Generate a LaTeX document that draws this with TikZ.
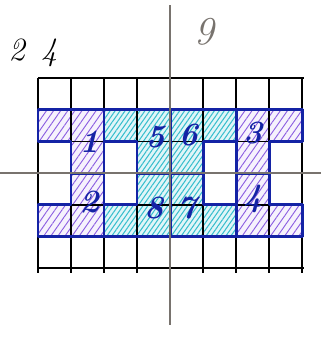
\documentclass[tikz,border=0pt]{standalone}
\usetikzlibrary{patterns.meta}
\definecolor{penblue}{RGB}{20, 35, 165}
\definecolor{hatchviolet}{RGB}{140, 95, 225}
\definecolor{hatchcyan}{RGB}{55, 190, 205}
\definecolor{pencilgray}{RGB}{120, 115, 110}

\newcommand{\partone}{(0,-1) -- (2,-1) -- (2,-3) -- (1,-3) -- (1,-2) -- (0,-2) -- cycle}
\newcommand{\parttwo}{(1,-3) -- (2,-3) -- (2,-5) -- (0,-5) -- (0,-4) -- (1,-4) -- cycle}
\newcommand{\partthree}{(6,-1) -- (8,-1) -- (8,-2) -- (7,-2) -- (7,-3) -- (6,-3) -- cycle}
\newcommand{\partfour}{(6,-3) -- (7,-3) -- (7,-4) -- (8,-4) -- (8,-5) -- (6,-5) -- cycle}
\newcommand{\partfive}{(2,-1) -- (4,-1) -- (4,-3) -- (3,-3) -- (3,-2) -- (2,-2) -- cycle}
\newcommand{\partsix}{(4,-1) -- (6,-1) -- (6,-2) -- (5,-2) -- (5,-3) -- (4,-3) -- cycle}
\newcommand{\partseven}{(4,-3) -- (5,-3) -- (5,-4) -- (6,-4) -- (6,-5) -- (4,-5) -- cycle}
\newcommand{\parteight}{(3,-3) -- (4,-3) -- (4,-5) -- (2,-5) -- (2,-4) -- (3,-4) -- cycle}

\begin{document}
\begin{tikzpicture}[x=1cm, y=0.96cm,
    gridline/.style={black, line width=1.4pt},
    axisline/.style={pencilgray, line width=1.5pt},
    violetpart/.style={fill=hatchviolet!8, postaction={pattern={Lines[angle=55, distance=5pt, line width=0.8pt]}, pattern color=hatchviolet}},
    cyanpart/.style={fill=hatchcyan!15, postaction={pattern={Lines[angle=55, distance=3.5pt, line width=0.9pt]}, pattern color=hatchcyan}},
    outline/.style={draw=penblue, line width=2.4pt, line join=round},
    digit/.style={text=penblue, font=\fontsize{28}{28}\selectfont\bfseries\itshape, inner sep=0pt}
]
    \useasboundingbox (-1.15,2.46) rectangle (8.58,-8.23);

    \path[violetpart] \partone;
    \path[violetpart] \parttwo;
    \path[violetpart] \partthree;
    \path[violetpart] \partfour;
    \path[cyanpart] \partfive;
    \path[cyanpart] \partsix;
    \path[cyanpart] \partseven;
    \path[cyanpart] \parteight;

    \foreach \gx in {0,...,8}
        \draw[gridline] (\gx,0) -- (\gx,-6.15);
    \foreach \gy in {0,...,6}
        \draw[gridline] (0,-\gy) -- (8.05,-\gy);

    \draw[outline] \partone;
    \draw[outline] \parttwo;
    \draw[outline] \partthree;
    \draw[outline] \partfour;
    \draw[outline] \partfive;
    \draw[outline] \partsix;
    \draw[outline] \partseven;
    \draw[outline] \parteight;

    \draw[axisline] (4,2.3) -- (4,-7.8);
    \draw[axisline] (-1.15,-3) -- (8.58,-3);

    \node[digit] (n1) at (1.55,-2) {1};
    \node[digit] (n2) at (1.55,-3.9) {2};
    \node[digit] (n3) at (6.5,-1.75) {3};
    \node[digit] (n4) at (6.5,-3.8) {4};
    \node[digit] (n5) at (3.55,-1.85) {5};
    \node[digit] (n6) at (4.55,-1.8) {6};
    \node[digit] (n7) at (4.5,-4.1) {7};
    \node[digit] (n8) at (3.5,-4.1) {8};

    \node[text=pencilgray, font=\fontsize{34}{34}\selectfont\itshape] (quadrant) at (5.05,1.45) {9};
    \node[font=\fontsize{28}{28}\selectfont\itshape] (count) at (-0.15,0.8) {2\enspace4};
\end{tikzpicture}
\end{document}
